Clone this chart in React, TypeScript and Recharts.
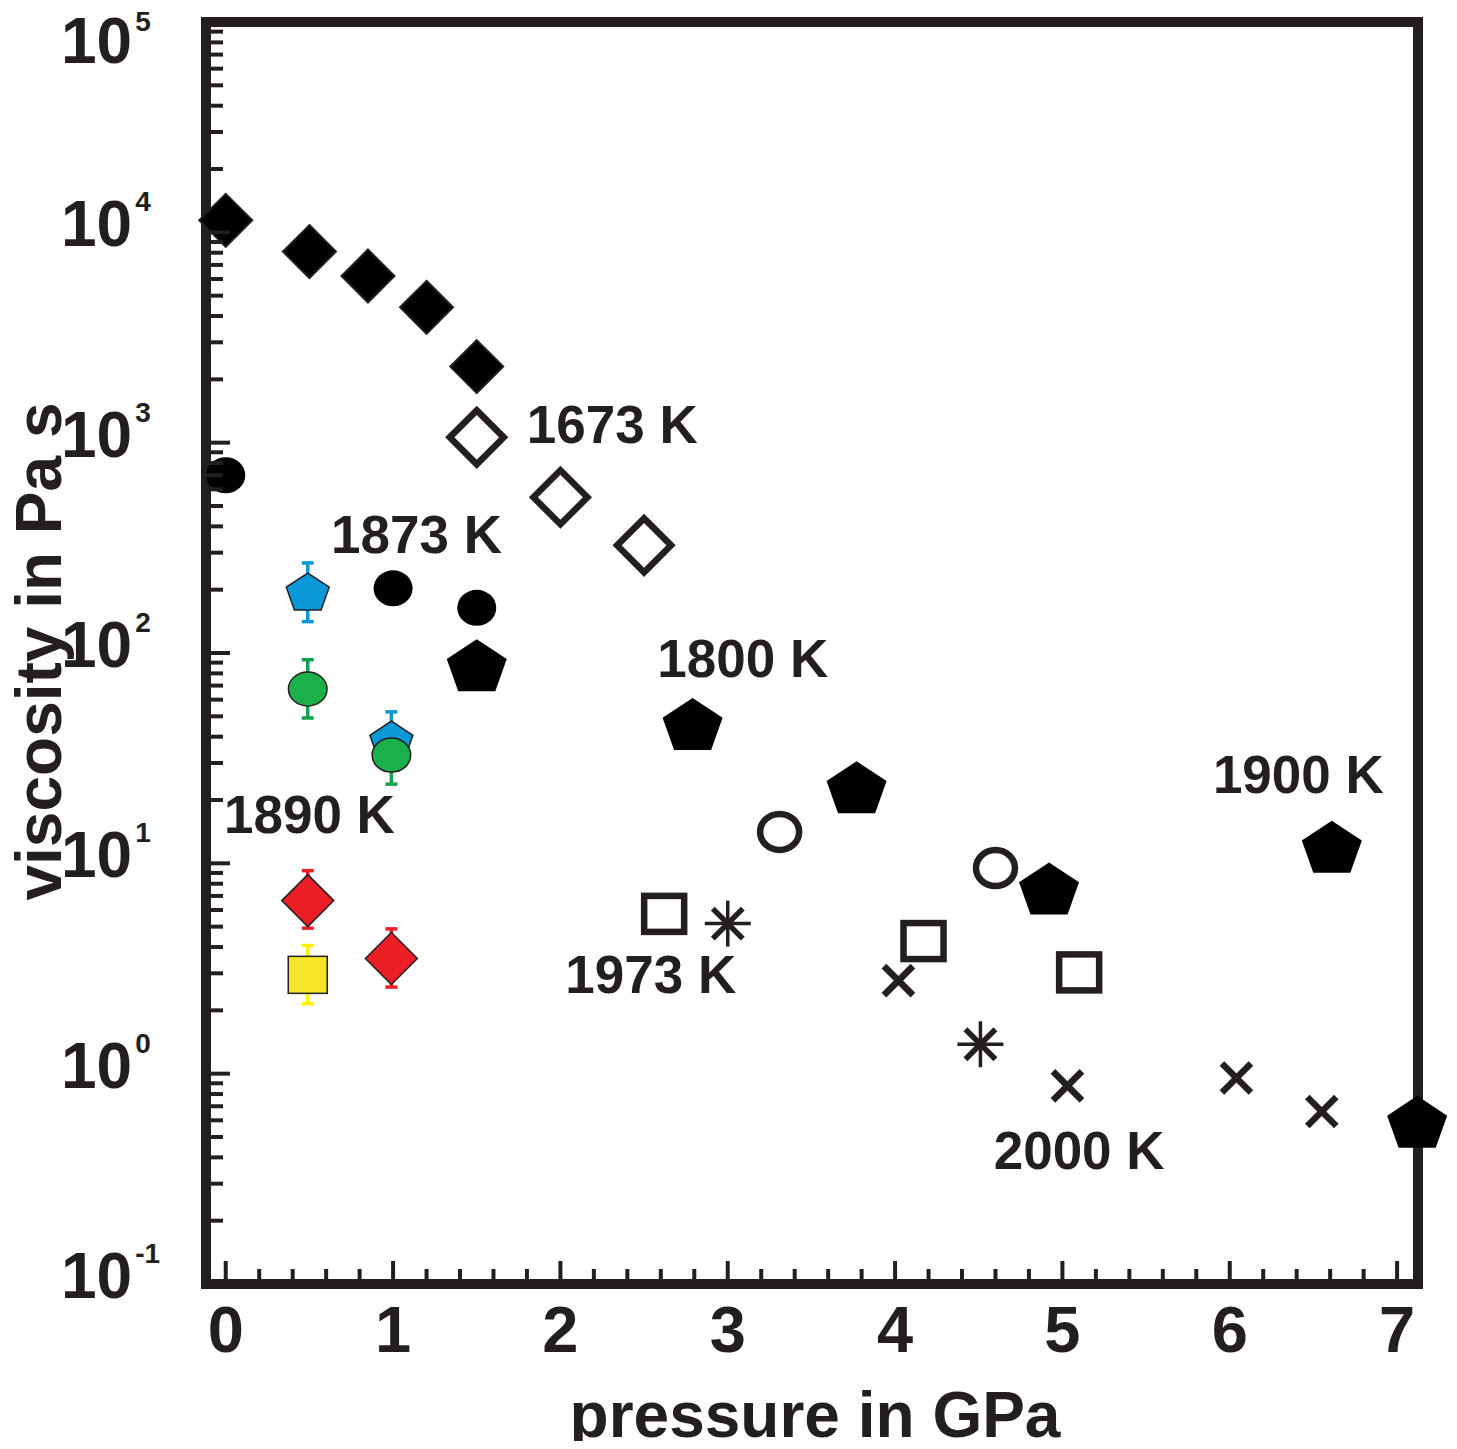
import React from 'react'
import { ScatterChart, Scatter, XAxis, YAxis, ErrorBar, ReferenceDot } from 'recharts'

const INK = '#231f20'
const FONT = '"Liberation Sans", Arial, Helvetica, sans-serif'

// 1673 K, filled diamonds
const dia1673P = [0, 0.5, 0.85, 1.2, 1.5]
const dia1673V = [11400, 8100, 6200, 4400, 2300]
// open diamonds
const openDiaP = [1.5, 2.0, 2.5]
const openDiaV = [1060, 550, 325]
// 1873 K, filled circles
const circ1873P = [0, 1, 1.5]
const circ1873V = [700, 203, 164]
// filled pentagons (1800 K / 1900 K)
const pentP = [1.5, 2.79, 3.77, 4.92, 6.61, 7.12]
const pentV = [87.5, 46, 23, 7.6, 12, 0.59]
// open circles
const openCircP = [3.31, 4.6]
const openCircV = [14.1, 9.5]
// open squares
const openSqP = [2.62, 4.17, 5.1]
const openSqV = [5.75, 4.27, 3.03]
// asterisks (1973 K)
const starP = [3.0, 4.51]
const starV = [5.17, 1.38]
// crosses (2000 K)
const crossP = [4.02, 5.03, 6.04, 6.55]
const crossV = [2.77, 0.875, 0.953, 0.661]

// 1890 K, coloured sets with error bars
const blueP = [0.49, 0.99]
const blueV = [196, 38.7]
const blueLo = [141, 28]
const blueHi = [268, 52.5]
const greenP = [0.49, 0.99]
const greenV = [67.4, 32.7]
const greenLo = [49.1, 23.8]
const greenHi = [92.9, 45.3]
const redP = [0.49, 0.99]
const redV = [6.65, 3.53]
const redLo = [4.92, 2.58]
const redHi = [9.23, 4.88]
const yellowP = [0.49]
const yellowV = [2.95]
const yellowLo = [2.15]
const yellowHi = [4.07]

// temperature annotations (anchor = text centre / baseline)
const noteText = ['1673 K', '1873 K', '1800 K', '1900 K', '1890 K', '1973 K', '2000 K']
const noteP = [2.31, 1.14, 3.09, 6.41, 0.5, 2.54, 5.1]
const noteV = [1000, 300, 77, 21.7, 14, 2.43, 0.353]

// axis ticks
const xMajor = [0, 1, 2, 3, 4, 5, 6, 7]
const yDecades = [-1, 0, 1, 2, 3, 4, 5]

const xTicks: number[] = []
xMajor.forEach((k, i) => {
  if (i < xMajor.length - 1) for (let j = 0; j < 5; j++) xTicks.push(k + j * 0.2)
  else xTicks.push(k)
})
const yTicks: number[] = []
yDecades.forEach((d, i) => {
  if (i < yDecades.length - 1) for (let m = 1; m < 10; m++) yTicks.push(m * Math.pow(10, d))
  else yTicks.push(Math.pow(10, d))
})

const rows = (ps: number[], vs: number[]) => ps.map((p, i) => ({ p, v: vs[i] }))
const errRows = (ps: number[], vs: number[], lo: number[], hi: number[]) =>
  ps.map((p, i) => ({ p, v: vs[i], err: [vs[i] - lo[i], hi[i] - vs[i]] }))

const isInt = (v: number) => Math.abs(v - Math.round(v)) < 1e-6
const isDecade = (v: number) => isInt(Math.log10(v))

// ---- marker shapes ----
const diamond = (r: number, fill: string, stroke: string, sw: number) => (props: any) => {
  const { cx, cy } = props
  return <path d={`M${cx},${cy - r}L${cx + r},${cy}L${cx},${cy + r}L${cx - r},${cy}Z`} fill={fill} stroke={stroke} strokeWidth={sw} />
}
const ellipse = (rx: number, ry: number, fill: string, stroke: string, sw: number) => (props: any) => (
  <ellipse cx={props.cx} cy={props.cy} rx={rx} ry={ry} fill={fill} stroke={stroke} strokeWidth={sw} />
)
const rect = (hw: number, hh: number, fill: string, stroke: string, sw: number) => (props: any) => (
  <rect x={props.cx - hw} y={props.cy - hh} width={hw * 2} height={hh * 2} fill={fill} stroke={stroke} strokeWidth={sw} />
)
const pentagon = (w: number, h: number, fill: string, stroke: string, sw: number) => (props: any) => {
  const { cx, cy } = props
  const rx = w / 1.902
  const ry = h / 1.809
  const pts = [-90, -18, 54, 126, 198].map((a) => {
    const t = (a * Math.PI) / 180
    return `${cx + rx * Math.cos(t)},${cy + ry * Math.sin(t) + 0.0955 * ry}`
  })
  return <polygon points={pts.join(' ')} fill={fill} stroke={stroke} strokeWidth={sw} />
}
const asterisk = (props: any) => {
  const { cx, cy } = props
  return (
    <g stroke={INK}>
      <line x1={cx - 23} x2={cx + 23} y1={cy} y2={cy} strokeWidth={3.5} />
      <line x1={cx} x2={cx} y1={cy - 23} y2={cy + 23} strokeWidth={3.5} />
      <line x1={cx - 15} y1={cy - 15} x2={cx + 15} y2={cy + 15} strokeWidth={5.5} />
      <line x1={cx - 15} y1={cy + 15} x2={cx + 15} y2={cy - 15} strokeWidth={5.5} />
    </g>
  )
}
const cross = (props: any) => {
  const { cx, cy } = props
  return (
    <g stroke={INK} strokeWidth={6.5}>
      <line x1={cx - 14.5} y1={cy - 14.5} x2={cx + 14.5} y2={cy + 14.5} />
      <line x1={cx - 14.5} y1={cy + 14.5} x2={cx + 14.5} y2={cy - 14.5} />
    </g>
  )
}
const nothing = () => <g />

// ---- axis ticks ----
const tickStroke = { stroke: INK, strokeWidth: 4 }

const BottomTick = (props: any) => {
  const { x, y, payload } = props
  const major = isInt(payload.value)
  return (
    <g>
      <line x1={x} x2={x} y1={y} y2={y - (major ? 23 : 15)} {...tickStroke} />
      {major && (
        <text x={x} y={y + 68} textAnchor="middle" fontSize={65} fontWeight="bold" fill={INK} fontFamily={FONT}>
          {Math.round(payload.value)}
        </text>
      )}
    </g>
  )
}
const TopTick = (props: any) => {
  const { x, y, payload } = props
  const major = isInt(payload.value)
  return <line x1={x} x2={x} y1={y} y2={y + (major ? 24 : 15)} {...tickStroke} />
}
const LeftTick = (props: any) => {
  const { x, y, payload } = props
  const major = isDecade(payload.value)
  const exp = Math.round(Math.log10(payload.value))
  // the top label sits lower so it stays inside the figure
  const base = exp === 5 ? y + 41 : y + 14
  return (
    <g>
      <line x1={x} x2={x + (major ? 24 : 17)} y1={y} y2={y} {...tickStroke} />
      {major && (
        <text x={x - 145} y={base} fontSize={64} fontWeight="bold" fill={INK} fontFamily={FONT}>
          <tspan>10</tspan>
          <tspan dx={3} dy={exp === 5 ? -32 : -35} fontSize={28}>{exp}</tspan>
        </text>
      )}
    </g>
  )
}
const RightTick = (props: any) => {
  const { x, y, payload } = props
  const major = isDecade(payload.value)
  return <line x1={x} x2={x - (major ? 23 : 16)} y1={y} y2={y} {...tickStroke} />
}

const XTitle = (props: any) => {
  const vb = props.viewBox
  return (
    <text x={vb.x + vb.width / 2 + 3} y={vb.y + 153} textAnchor="middle" fontSize={64} fontWeight="bold" fill={INK} fontFamily={FONT}>
      pressure in GPa
    </text>
  )
}
const YTitle = (props: any) => {
  const vb = props.viewBox
  const cx = vb.x + 5
  const cy = vb.y + vb.height / 2 - 1.5
  return (
    <text x={cx} y={cy} transform={`rotate(-90, ${cx}, ${cy})`} textAnchor="middle" fontSize={64} fontWeight="bold" fill={INK} fontFamily={FONT}>
      viscosity in Pa s
    </text>
  )
}

const border = { stroke: INK, strokeWidth: 10, strokeLinecap: 'square' as const }
const xDomain: [number, number] = [-0.118, 7.125]
const yDomain: [number, number] = [0.1, 100000]

const BLUE = '#0a98d8'
const GREEN = '#1cb04b'
const RED = '#ec1f26'
const YELLOW = '#f7e627'

export default function App() {
  return (
    <div style={{ marginBottom: -8 }}>
      <ScatterChart width={1441} height={1441} margin={{ top: 4, right: 21, bottom: 15, left: 48 }}>
        <Scatter data={rows(dia1673P, dia1673V)} shape={diamond(26.5, '#000', INK, 2)} isAnimationActive={false} />
        <Scatter data={rows(openDiaP, openDiaV)} shape={diamond(27, 'none', INK, 6.5)} isAnimationActive={false} />
        <Scatter data={rows(circ1873P, circ1873V)} shape={ellipse(19.5, 18, '#000', 'none', 0)} isAnimationActive={false} />
        <Scatter data={rows(pentP, pentV)} shape={pentagon(60, 52, '#000', 'none', 0)} isAnimationActive={false} />
        <Scatter data={rows(openCircP, openCircV)} shape={ellipse(19.5, 18, 'none', INK, 6.5)} isAnimationActive={false} />
        <Scatter data={rows(openSqP, openSqV)} shape={rect(20, 18, 'none', INK, 6.5)} isAnimationActive={false} />
        <Scatter data={rows(starP, starV)} shape={asterisk} isAnimationActive={false} />
        <Scatter data={rows(crossP, crossV)} shape={cross} isAnimationActive={false} />

        <Scatter data={errRows(blueP, blueV, blueLo, blueHi)} shape={pentagon(43, 37, BLUE, INK, 1.5)} isAnimationActive={false} />
        <Scatter data={errRows(blueP, blueV, blueLo, blueHi)} shape={nothing} isAnimationActive={false}>
          <ErrorBar dataKey="err" direction="y" stroke={BLUE} strokeWidth={3.5} width={6} />
        </Scatter>
        <Scatter data={errRows(greenP, greenV, greenLo, greenHi)} shape={ellipse(19.3, 17, GREEN, INK, 1.5)} isAnimationActive={false} />
        <Scatter data={errRows(greenP, greenV, greenLo, greenHi)} shape={nothing} isAnimationActive={false}>
          <ErrorBar dataKey="err" direction="y" stroke="#0fa24a" strokeWidth={3.5} width={6} />
        </Scatter>
        <Scatter data={errRows(redP, redV, redLo, redHi)} shape={diamond(26, RED, INK, 1.5)} isAnimationActive={false} />
        <Scatter data={errRows(redP, redV, redLo, redHi)} shape={nothing} isAnimationActive={false}>
          <ErrorBar dataKey="err" direction="y" stroke={RED} strokeWidth={3.5} width={6} />
        </Scatter>
        <Scatter data={errRows(yellowP, yellowV, yellowLo, yellowHi)} shape={rect(19.5, 18.5, YELLOW, INK, 1.5)} isAnimationActive={false} />
        <Scatter data={errRows(yellowP, yellowV, yellowLo, yellowHi)} shape={nothing} isAnimationActive={false}>
          <ErrorBar dataKey="err" direction="y" stroke="#fff200" strokeWidth={3.5} width={6} />
        </Scatter>

        {noteText.map((t, i) => (
          <ReferenceDot
            key={t}
            x={noteP[i]}
            y={noteV[i]}
            r={0}
            ifOverflow="visible"
            shape={(p: any) => (
              <text x={p.cx} y={p.cy} textAnchor="middle" fontSize={53} fontWeight="bold" fill={INK} fontFamily={FONT}>
                {t}
              </text>
            )}
          />
        ))}

        <XAxis
          type="number"
          dataKey="p"
          domain={xDomain}
          ticks={xTicks}
          interval={0}
          tick={BottomTick}
          tickLine={false}
          tickSize={0}
          tickMargin={0}
          axisLine={border}
          height={150}
          label={XTitle}
        />
        <XAxis
          xAxisId="top"
          orientation="top"
          type="number"
          dataKey="p"
          domain={xDomain}
          ticks={xTicks}
          interval={0}
          tick={TopTick}
          tickLine={false}
          tickSize={0}
          tickMargin={0}
          axisLine={border}
          height={10}
        />
        <YAxis
          type="number"
          dataKey="v"
          scale="log"
          domain={yDomain}
          ticks={yTicks}
          interval={0}
          tick={LeftTick}
          tickLine={false}
          tickSize={0}
          tickMargin={0}
          axisLine={border}
          width={150}
          label={YTitle}
        />
        <YAxis
          yAxisId="right"
          orientation="right"
          type="number"
          dataKey="v"
          scale="log"
          domain={yDomain}
          ticks={yTicks}
          interval={0}
          tick={RightTick}
          tickLine={false}
          tickSize={0}
          tickMargin={0}
          axisLine={border}
          width={10}
        />
      </ScatterChart>
    </div>
  )
}
